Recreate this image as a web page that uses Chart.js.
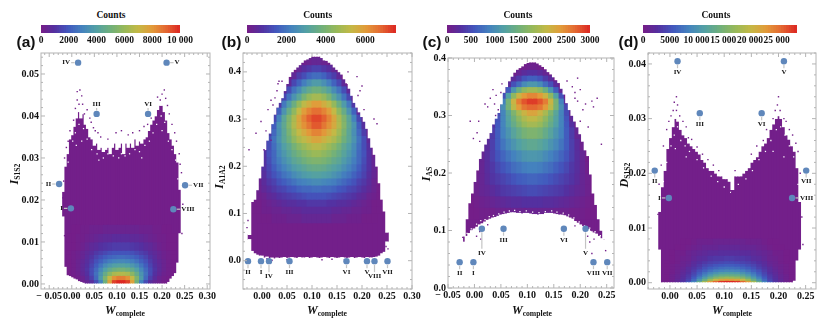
<!DOCTYPE html>
<html>
<head>
<meta charset="utf-8">
<title>Counts</title>
<script src="https://cdn.jsdelivr.net/npm/chart.js@4"></script>
<style>
  html, body { margin: 0; padding: 0; background: #fff; width: 826px; height: 319px; overflow: hidden; }
  canvas { position: absolute; }
  .txt { position: absolute; transform: translate(-50%, -50%); white-space: nowrap; font-family: "Liberation Serif", serif; color: #111; }
  .txt sub { font-size: 0.64em; font-weight: bold; font-style: normal; vertical-align: -0.3em; line-height: 0; }
</style>
</head>
<body>
<script>
// ### marker data ###
const markerNames = ["I", "II", "III", "IV", "V", "VI", "VII", "VIII"];
const markerW = [-0.002, -0.028, 0.055, 0.014, 0.21, 0.169, 0.251, 0.225];
const markerYA = [0.018, 0.0238, 0.0405, 0.0527, 0.0527, 0.0405, 0.0235, 0.0178];
const markerYB = [-0.001, -0.001, -0.001, -0.001, -0.001, -0.001, -0.001, -0.001];
const markerYC = [0.045, 0.045, 0.103, 0.103, 0.103, 0.103, 0.045, 0.045];
const markerYD = [0.0155, 0.0205, 0.031, 0.0405, 0.0405, 0.031, 0.0205, 0.0155];

// ### tick labels ###
const xTicksA = [-0.05, 0, 0.05, 0.1, 0.15, 0.2, 0.25, 0.3];
const xTicksB = [0, 0.05, 0.1, 0.15, 0.2, 0.25, 0.3];
const xTicksC = [-0.05, 0, 0.05, 0.1, 0.15, 0.2, 0.25];
const xTicksD = [0, 0.05, 0.1, 0.15, 0.2, 0.25];
const yTicksA = [0, 0.01, 0.02, 0.03, 0.04, 0.05];
const yTicksB = [0, 0.1, 0.2, 0.3, 0.4];
const yTicksC = [0, 0.1, 0.2, 0.3, 0.4];
const yTicksD = [0, 0.01, 0.02, 0.03, 0.04];
const barTicksA = [0, 2000, 4000, 6000, 8000, 10000];
const barTicksB = [0, 2000, 4000, 6000];
const barTicksC = [0, 500, 1000, 1500, 2000, 2500, 3000];
const barTicksD = [0, 5000, 10000, 15000, 20000, 25000];

// ### outline of each cloud: one column every 0.005 in W ###
const outlineW = [-0.025, -0.02, -0.015, -0.01, -0.005, 0, 0.005, 0.01, 0.015, 0.02, 0.025, 0.03, 0.035, 0.04, 0.045, 0.05, 0.055, 0.06, 0.065, 0.07, 0.075, 0.08, 0.085, 0.09, 0.095, 0.1, 0.105, 0.11, 0.115, 0.12, 0.125, 0.13, 0.135, 0.14, 0.145, 0.15, 0.155, 0.16, 0.165, 0.17, 0.175, 0.18, 0.185, 0.19, 0.195, 0.2, 0.205, 0.21, 0.215, 0.22, 0.225, 0.23, 0.235, 0.24, 0.245, 0.25];
const topA = [null, 0.022, 0.028, 0.031, 0.0345, 0.0355, 0.0375, 0.0395, 0.041, 0.0395, 0.0405, 0.038, 0.037, 0.035, 0.0345, 0.033, 0.0335, 0.032, 0.0325, 0.0315, 0.032, 0.0325, 0.031, 0.0325, 0.0335, 0.032, 0.0325, 0.0335, 0.031, 0.0335, 0.0325, 0.0335, 0.0325, 0.0345, 0.033, 0.034, 0.0335, 0.0345, 0.035, 0.0365, 0.038, 0.039, 0.04, 0.0415, 0.0425, 0.0425, 0.041, 0.039, 0.036, 0.0345, 0.033, 0.031, 0.029, 0.0225, null, null];
const lowA = [null, 0.016, 0.004, 0.002, 0.0018, 0.0015, 0.0012, 0.001, 0.0006, 0.0004, 0.0002, 0, 0, 0, 0, 0, 0, 0, 0, 0, 0, 0, 0, 0, 0, 0, 0, 0, 0, 0, 0, 0, 0, 0, 0, 0, 0, 0, 0, 0, 0, 0, 0, 0, 0, 0, 0, 0, 0.0004, 0.0012, 0.0018, 0.0025, 0.005, 0.012, null, null];
const topB = [0.055, 0.125, 0.13, 0.15, 0.175, 0.2, 0.235, 0.255, 0.27, 0.29, 0.31, 0.325, 0.335, 0.345, 0.36, 0.375, 0.39, 0.4, 0.405, 0.41, 0.415, 0.42, 0.425, 0.427, 0.43, 0.433, 0.433, 0.433, 0.433, 0.43, 0.425, 0.424, 0.42, 0.416, 0.41, 0.405, 0.4, 0.395, 0.385, 0.375, 0.365, 0.35, 0.335, 0.325, 0.315, 0.305, 0.295, 0.28, 0.26, 0.24, 0.225, 0.2, 0.165, 0.13, 0.105, 0.06];
const lowB = [0.045, 0.02, 0.015, 0.012, 0.01, 0.01, 0.006, 0.008, 0.004, 0.006, 0.004, 0.006, 0.005, 0.006, 0.007, 0.005, 0.006, 0.007, 0.006, 0.005, 0.007, 0.006, 0.006, 0.007, 0.005, 0.006, 0.007, 0.006, 0.005, 0.006, 0.007, 0.006, 0.005, 0.007, 0.006, 0.005, 0.006, 0.007, 0.006, 0.005, 0.006, 0.007, 0.005, 0.006, 0.007, 0.006, 0.005, 0.007, 0.006, 0.006, 0.007, 0.008, 0.01, 0.015, 0.018, 0.04];
const topC = [null, 0.09, 0.12, 0.148, 0.165, 0.185, 0.205, 0.225, 0.238, 0.25, 0.26, 0.27, 0.285, 0.295, 0.305, 0.32, 0.34, 0.35, 0.36, 0.368, 0.375, 0.38, 0.383, 0.386, 0.39, 0.392, 0.393, 0.393, 0.393, 0.391, 0.388, 0.385, 0.381, 0.376, 0.372, 0.367, 0.362, 0.357, 0.347, 0.337, 0.322, 0.31, 0.3, 0.29, 0.28, 0.268, 0.255, 0.24, 0.23, 0.198, 0.165, 0.145, 0.12, 0.1, 0.085, null];
const lowC = [null, 0.08, 0.09, 0.095, 0.1, 0.103, 0.106, 0.11, 0.112, 0.115, 0.118, 0.12, 0.122, 0.123, 0.125, 0.127, 0.128, 0.129, 0.13, 0.131, 0.131, 0.13, 0.13, 0.129, 0.13, 0.13, 0.129, 0.128, 0.128, 0.127, 0.128, 0.128, 0.13, 0.13, 0.13, 0.129, 0.128, 0.127, 0.127, 0.126, 0.124, 0.122, 0.12, 0.116, 0.113, 0.11, 0.107, 0.104, 0.102, 0.099, 0.096, 0.094, 0.09, 0.086, 0.084, null];
const topD = [null, 0.013, 0.0175, 0.0205, 0.0245, 0.0265, 0.0285, 0.03, 0.0295, 0.028, 0.027, 0.0265, 0.0255, 0.025, 0.0245, 0.024, 0.0235, 0.0225, 0.022, 0.021, 0.0205, 0.0205, 0.02, 0.0195, 0.0195, 0.019, 0.019, 0.0185, 0.017, 0.0195, 0.0195, 0.0195, 0.02, 0.0205, 0.021, 0.022, 0.0225, 0.023, 0.024, 0.025, 0.0255, 0.0265, 0.028, 0.029, 0.03, 0.0305, 0.03, 0.0285, 0.027, 0.0262, 0.025, 0.024, 0.021, 0.0148, null, null];
const lowD = [null, 0.006, 0, 0, 0, 0, 0, 0, 0, 0, 0, 0, 0, 0, 0, 0, 0, 0, 0, 0, 0, 0, 0, 0, 0, 0, 0, 0, 0, 0, 0, 0, 0, 0, 0, 0, 0, 0, 0, 0, 0, 0, 0, 0, 0, 0, 0, 0, 0, 0, 0, 0.0003, 0.004, 0.006, null, null];

// ### heat cells: column centres, row edges, counts per cell in units of countUnit ###
const colsA = [-0.005, 0.005, 0.015, 0.025, 0.035, 0.045, 0.055, 0.065, 0.075, 0.085, 0.095, 0.105, 0.115, 0.125, 0.135, 0.145, 0.155, 0.165, 0.175, 0.185, 0.195, 0.205, 0.215, 0.225];
const rowsA = [0, 0.001, 0.002, 0.003, 0.004, 0.005, 0.006, 0.007, 0.008, 0.01, 0.012, 0.014];
const countUnitA = 100;
const countsA = [
  [0,0,1,3,5,9,17,30,50,78,96,100,100,96,78,50,30,17,9,5,3,1,0,0],
  [0,1,2,4,8,14,24,38,54,70,82,86,86,82,70,54,38,24,14,8,4,2,1,0],
  [1,2,3,6,10,17,26,36,47,57,64,66,66,64,57,47,36,26,17,10,6,3,2,1],
  [1,2,4,7,11,17,24,32,40,46,50,52,52,50,46,40,32,24,17,11,7,4,2,1],
  [1,2,4,7,10,15,21,27,33,37,40,41,41,40,37,33,27,21,15,10,7,4,2,1],
  [1,2,4,6,9,13,18,22,26,29,31,32,32,31,29,26,22,18,13,9,6,4,2,1],
  [1,2,3,5,8,11,15,18,21,23,24,25,25,24,23,21,18,15,11,8,5,3,2,1],
  [1,2,3,5,7,9,12,14,16,18,19,19,19,19,18,16,14,12,9,7,5,3,2,1],
  [1,1,2,3,5,7,8,10,11,12,13,13,13,13,12,11,10,8,7,5,3,2,1,1],
  [1,1,2,2,3,4,5,6,7,7,8,8,8,8,7,7,6,5,4,3,2,2,1,1],
  [0,1,1,2,2,3,3,3,4,4,4,4,4,4,4,4,3,3,3,2,2,1,1,0],
];
const colsB = [-0.015, -0.005, 0.005, 0.015, 0.025, 0.035, 0.045, 0.055, 0.065, 0.075, 0.085, 0.095, 0.105, 0.115, 0.125, 0.135, 0.145, 0.155, 0.165, 0.175, 0.185, 0.195, 0.205, 0.215, 0.225, 0.235];
const rowsB = [0.08, 0.1, 0.115, 0.13, 0.145, 0.16, 0.175, 0.19, 0.205, 0.22, 0.235, 0.25, 0.265, 0.28, 0.295, 0.31, 0.325, 0.34, 0.355, 0.37, 0.385, 0.4, 0.415, 0.43];
const countUnitB = 100;
const countsB = [
  [0,1,1,1,2,2,2,3,3,3,4,4,4,4,4,4,3,3,3,2,2,2,1,1,1,0],
  [1,1,2,2,3,3,4,4,5,5,6,6,6,6,6,6,5,5,4,4,3,3,2,2,1,1],
  [1,1,2,3,4,5,6,7,7,8,8,9,9,9,9,8,8,7,7,6,5,4,3,2,1,1],
  [1,2,3,5,6,8,9,10,11,12,13,14,14,14,14,13,12,11,10,9,8,6,5,3,2,1],
  [1,3,5,7,9,11,12,14,15,17,18,18,19,19,18,18,17,15,14,12,11,9,7,5,3,1],
  [1,3,6,9,11,14,16,18,20,22,23,24,25,25,24,23,22,20,18,16,14,11,9,6,3,1],
  [1,4,7,11,14,17,20,22,25,27,29,30,31,31,30,29,27,25,22,20,17,14,11,7,4,1],
  [1,4,8,12,16,20,23,26,29,31,33,35,36,36,35,33,31,29,26,23,20,16,12,8,4,1],
  [0,4,8,13,18,22,26,29,33,35,38,40,41,41,40,38,35,33,29,26,22,18,13,8,4,0],
  [0,3,8,14,18,24,28,32,36,39,42,44,46,46,44,42,39,36,32,28,24,18,14,8,3,0],
  [0,2,7,13,19,25,30,34,39,43,46,49,51,51,49,46,43,39,34,30,25,19,13,7,2,0],
  [0,0,5,13,20,27,33,38,44,49,52,55,58,58,55,52,49,44,38,33,27,20,13,5,0,0],
  [0,0,3,10,18,26,33,40,47,53,57,61,64,64,61,57,53,47,40,33,26,18,10,3,0,0],
  [0,0,0,7,16,27,34,42,50,57,62,66,70,70,66,62,57,50,42,34,27,16,7,0,0,0],
  [0,0,0,5,12,23,33,41,49,58,64,69,72,72,69,64,58,49,41,33,23,12,5,0,0,0],
  [0,0,0,0,5,17,27,36,44,53,60,64,67,67,64,60,53,44,36,27,17,5,0,0,0,0],
  [0,0,0,0,2,9,21,29,37,45,52,56,60,60,56,52,45,37,29,21,9,2,0,0,0,0],
  [0,0,0,0,0,4,12,20,27,33,40,45,48,48,45,40,33,27,20,12,4,0,0,0,0,0],
  [0,0,0,0,0,0,5,13,20,25,31,35,38,38,35,31,25,20,13,5,0,0,0,0,0,0],
  [0,0,0,0,0,0,1,5,12,17,22,26,29,29,26,22,17,12,5,1,0,0,0,0,0,0],
  [0,0,0,0,0,0,0,1,5,10,13,17,19,19,17,13,10,5,1,0,0,0,0,0,0,0],
  [0,0,0,0,0,0,0,0,1,4,7,9,11,11,9,7,4,1,0,0,0,0,0,0,0,0],
  [0,0,0,0,0,0,0,0,0,0,2,3,4,4,3,2,0,0,0,0,0,0,0,0,0,0],
];
const colsC = colsB;
const rowsC = [0.12, 0.14, 0.16, 0.18, 0.2, 0.22, 0.24, 0.26, 0.28, 0.29, 0.3, 0.31, 0.32, 0.33, 0.34, 0.35, 0.36, 0.37, 0.38, 0.39];
const countUnitC = 30;
const countsC = [
  [0,1,1,2,2,2,3,3,3,4,4,4,4,4,4,4,4,3,3,3,2,2,2,1,1,0],
  [1,1,2,3,4,5,6,7,8,9,9,10,10,10,10,9,9,8,7,6,5,4,3,2,1,1],
  [0,1,3,5,6,8,10,12,13,14,15,16,17,17,16,15,14,13,12,10,8,6,5,3,1,0],
  [0,1,3,5,8,11,13,15,17,19,21,22,23,23,22,21,19,17,15,13,11,8,5,3,1,0],
  [0,0,2,5,9,12,16,19,22,25,27,29,30,30,29,27,25,22,19,16,12,9,5,2,0,0],
  [0,0,1,5,9,14,19,23,27,30,33,36,37,37,36,33,30,27,23,19,14,9,5,1,0,0],
  [0,0,0,3,8,14,21,27,32,36,40,43,45,45,43,40,36,32,27,21,14,8,3,0,0,0],
  [0,0,0,0,5,13,21,30,36,42,47,52,54,54,52,47,42,36,30,21,13,5,0,0,0,0],
  [0,0,0,0,2,10,20,31,40,47,54,60,63,63,60,54,47,40,31,20,10,2,0,0,0,0],
  [0,0,0,0,1,7,19,31,41,50,58,65,69,69,65,58,50,41,31,19,7,1,0,0,0,0],
  [0,0,0,0,0,5,17,31,43,54,64,72,77,77,72,64,54,43,31,17,5,0,0,0,0,0],
  [0,0,0,0,0,3,16,34,52,68,80,87,90,90,87,80,68,52,34,16,3,0,0,0,0,0],
  [0,0,0,0,0,0,8,30,52,72,86,93,97,97,93,86,72,52,30,8,0,0,0,0,0,0],
  [0,0,0,0,0,0,2,18,40,58,72,80,84,84,80,72,58,40,18,2,0,0,0,0,0,0],
  [0,0,0,0,0,0,0,6,21,36,49,58,62,62,58,49,36,21,6,0,0,0,0,0,0,0],
  [0,0,0,0,0,0,0,1,8,18,25,33,37,37,33,25,18,8,1,0,0,0,0,0,0,0],
  [0,0,0,0,0,0,0,0,2,8,13,19,22,22,19,13,8,2,0,0,0,0,0,0,0,0],
  [0,0,0,0,0,0,0,0,0,2,5,8,10,10,8,5,2,0,0,0,0,0,0,0,0,0],
  [0,0,0,0,0,0,0,0,0,0,1,2,3,3,2,1,0,0,0,0,0,0,0,0,0,0],
];
const colsD = colsA;
const rowsD = [0, 0.0004, 0.0008, 0.0012, 0.0016, 0.002, 0.0025, 0.003, 0.0035, 0.004, 0.005, 0.006, 0.007, 0.008];
const countUnitD = 288;
const countsD = [
  [1,3,6,11,19,30,46,62,78,90,98,100,100,98,90,78,62,46,30,19,11,6,3,1],
  [1,3,6,10,15,24,36,48,60,70,76,78,78,76,70,60,48,36,24,15,10,6,3,1],
  [1,3,5,9,13,20,29,38,47,54,58,60,60,58,54,47,38,29,20,13,9,5,3,1],
  [1,3,5,8,12,17,24,31,38,44,47,48,48,47,44,38,31,24,17,12,8,5,3,1],
  [1,2,4,7,10,15,21,27,32,36,39,40,40,39,36,32,27,21,15,10,7,4,2,1],
  [1,2,4,6,9,13,18,22,26,29,31,32,32,31,29,26,22,18,13,9,6,4,2,1],
  [1,2,3,5,8,11,14,18,21,23,25,26,26,25,23,21,18,14,11,8,5,3,2,1],
  [1,2,3,4,6,9,12,15,17,19,20,21,21,20,19,17,15,12,9,6,4,3,2,1],
  [1,1,2,4,5,8,10,12,14,15,16,17,17,16,15,14,12,10,8,5,4,2,1,1],
  [0,1,2,3,4,6,8,9,11,12,12,13,13,12,12,11,9,8,6,4,3,2,1,0],
  [0,1,2,2,4,5,6,7,8,8,9,9,9,9,8,8,7,6,5,4,2,2,1,0],
  [0,0,1,1,2,3,4,5,5,5,6,6,6,6,5,5,5,4,3,2,1,1,0,0],
  [0,0,0,1,1,2,3,3,3,4,4,4,4,4,4,3,3,3,2,1,1,0,0,0],
];

// ### lone occupied bins outside the outline, [W, value] ###
const speckA = [[0.012,0.0458],[0.018,0.0462],[0.022,0.0448],[0.012,0.0438],[0.016,0.0428],[0.008,0.0418],[0.024,0.0428],[0.028,0.0405],[0.034,0.0415],[0.04,0.0395],[0.043,0.0385],[0.048,0.0372],[0.052,0.0365],[0.058,0.036],[0.064,0.035],[0.08,0.0345],[0.098,0.036],[0.11,0.0365],[0.125,0.0355],[0.135,0.036],[0.15,0.0365],[0.16,0.0375],[0.168,0.038],[0.176,0.0395],[0.205,0.0462],[0.2,0.0452],[0.208,0.0442],[0.196,0.0438],[0.19,0.0445],[0.212,0.0425],[0.216,0.0405],[0.222,0.038],[0.228,0.036],[0.232,0.034],[0.238,0.031],[0.24,0.0285],[-0.012,0.0325],[-0.008,0.034],[-0.016,0.03],[-0.018,0.0245],[-0.02,0.0205],[-0.016,0.0115],[0.243,0.0265],[0.246,0.019],[0.244,0.012],[-0.004,0.0365],[0.004,0.039]];
const speckB = [[-0.026,0.235],[-0.012,0.27],[-0.002,0.295],[0.004,0.235],[0.012,0.32],[0.018,0.34],[0.026,0.345],[0.022,0.33],[0.03,0.36],[0.034,0.38],[0.04,0.38],[0.032,0.375],[0.168,0.375],[0.172,0.4],[0.19,0.39],[0.2,0.37],[0.196,0.36],[0.192,0.35],[0.204,0.32],[0.224,0.3],[0.23,0.29],[0.018,0.255],[0.008,0.275],[-0.03,0.07],[-0.028,0.085],[0.252,0.025],[0.248,0.03],[0.01,0.004],[0.02,0.001],[0.05,0.002],[0.12,0.002],[0.14,0.003],[0.165,0.002]];
const speckC = [[0.008,0.29],[0.02,0.32],[0.03,0.33],[0.025,0.315],[0.035,0.345],[0.041,0.335],[0.038,0.32],[0.04,0.3],[0.045,0.31],[0.052,0.355],[0.005,0.27],[-0.002,0.26],[0.01,0.255],[-0.008,0.29],[0.05,0.34],[0.175,0.36],[0.195,0.365],[0.19,0.34],[0.185,0.35],[0.2,0.345],[0.195,0.325],[0.205,0.31],[0.2,0.29],[0.19,0.33],[0.215,0.28],[0.21,0.32],[0.222,0.325],[0.225,0.315],[0.232,0.33],[0.24,0.25],[0.006,0.118],[0.018,0.122],[0.03,0.13],[0.048,0.132],[0.06,0.135],[0.08,0.135],[0.095,0.138],[0.14,0.135],[0.15,0.132],[0.17,0.13],[0.004,0.09],[0.012,0.085],[0.01,0.098],[0.208,0.1],[0.214,0.09],[0.218,0.08],[0.222,0.1],[0.226,0.085],[0.222,0.06],[0.248,0.065],[-0.022,0.088],[0.025,0.11],[0.19,0.108]];
const speckD = [[0.012,0.034],[0.008,0.033],[0.014,0.0325],[0.006,0.0315],[0.012,0.0315],[0.018,0.0305],[-0.002,0.0295],[0.002,0.0305],[-0.006,0.028],[0.024,0.0295],[0.03,0.0285],[0.034,0.0265],[0.04,0.0262],[0.05,0.0248],[0.06,0.0235],[0.07,0.0225],[0.09,0.0205],[0.2,0.034],[0.198,0.0325],[0.203,0.0315],[0.194,0.0315],[0.19,0.03],[0.178,0.028],[0.172,0.026],[0.21,0.03],[0.214,0.0295],[0.22,0.028],[0.226,0.027],[0.232,0.0255],[0.236,0.024],[0.24,0.02],[-0.012,0.025],[-0.016,0.0215],[-0.02,0.018],[-0.022,0.0125],[0.243,0.012],[0.245,0.007],[0.15,0.0235],[0.16,0.025],[0.114,0.0165],[0.12,0.0205],[0.08,0.0215]];

// ### empty bins inside the outline, [W, value] ###
const holeA = [[0.002,0.034],[0.008,0.036],[0.016,0.038],[0.026,0.037],[0.034,0.0345],[0.044,0.032],[0.056,0.031],[0.07,0.03],[0.08,0.031],[0.092,0.0305],[0.104,0.03],[0.118,0.0305],[0.128,0.031],[0.14,0.032],[0.15,0.0315],[0.162,0.033],[0.172,0.034],[0.18,0.036],[0.188,0.038],[0.198,0.04],[0.206,0.0385],[0.214,0.034],[0.222,0.032],[0.23,0.0295],[0.01,0.033],[0.022,0.034],[0.06,0.0295],[0.11,0.031],[0.155,0.03],[0.2,0.0365],[-0.008,0.029],[0.235,0.025]];
const holeC = [[0.004,0.111],[0.012,0.117],[0.02,0.119],[0.028,0.124],[0.036,0.126],[0.046,0.129],[0.056,0.132],[0.066,0.134],[0.076,0.135],[0.086,0.133],[0.098,0.134],[0.11,0.132],[0.122,0.131],[0.134,0.133],[0.146,0.134],[0.156,0.132],[0.168,0.13],[0.178,0.127],[0.188,0.122],[0.198,0.115],[0.208,0.108],[0.218,0.104],[0.228,0.098],[0.238,0.091],[-0.006,0.103],[-0.014,0.095]];
const holeD = [[0.002,0.025],[0.008,0.027],[0.014,0.0285],[0.02,0.026],[0.028,0.025],[0.036,0.024],[0.05,0.0225],[0.062,0.021],[0.076,0.0195],[0.088,0.0185],[0.1,0.0175],[0.112,0.0165],[0.126,0.018],[0.14,0.019],[0.152,0.0205],[0.164,0.0225],[0.176,0.024],[0.186,0.026],[0.196,0.028],[0.204,0.0285],[0.212,0.027],[0.22,0.025],[0.228,0.023],[-0.012,0.0185],[-0.006,0.022],[0.236,0.018],[0.01,0.0245],[0.03,0.023],[0.19,0.024],[0.21,0.023]];

// ### colors ###
const MARKER = "#5f87bb";
const FRAME = "#b4b4b4";
const TEXT = "#111";
const SERIF = "Liberation Serif";
const RAINBOW = [
  [120, 28, 134], [84, 48, 160], [66, 88, 190], [68, 130, 190], [82, 160, 165], [110, 175, 125],
  [150, 185, 90], [195, 185, 70], [226, 155, 58], [228, 105, 50], [220, 40, 35],
];

function rainbowColor(t) {
  const pos = Math.min(Math.max(t, 0), 1) * (RAINBOW.length - 1);
  const i = Math.min(Math.floor(pos), RAINBOW.length - 2);
  const f = pos - i;
  const c = RAINBOW[i].map((v, k) => Math.round(v + (RAINBOW[i + 1][k] - v) * f));
  return `rgb(${c[0]},${c[1]},${c[2]})`;
}

// ### drawing helpers ###
function addCanvas(left, top, width, height) {
  const canvas = document.createElement("canvas");
  canvas.width = width;
  canvas.height = height;
  canvas.style.left = left + "px";
  canvas.style.top = top + "px";
  canvas.style.width = width + "px";
  canvas.style.height = height + "px";
  document.body.appendChild(canvas);
  return canvas;
}

function addText(html, x, y, style) {
  const el = document.createElement("div");
  el.className = "txt";
  el.innerHTML = html;
  el.style.left = x + "px";
  el.style.top = y + "px";
  el.style.cssText += style;
  document.body.appendChild(el);
}

// frame with inward ticks on all four sides
const frameTicks = {
  id: "frameTicks",
  afterDraw(chart, args, opts) {
    const { ctx, chartArea: a, scales } = chart;
    ctx.save();
    ctx.strokeStyle = FRAME;
    ctx.lineWidth = 1;
    const tickLine = (x0, y0, x1, y1) => {
      ctx.beginPath();
      ctx.moveTo(x0, y0);
      ctx.lineTo(x1, y1);
      ctx.stroke();
    };
    for (let n = -20; n <= 80; n++) {
      const v = n * opts.xStep;
      if (v < scales.x.min || v > scales.x.max) continue;
      const len = n % 5 === 0 ? 4 : 2;
      const px = scales.x.getPixelForValue(v);
      tickLine(px, a.bottom, px, a.bottom - len);
      tickLine(px, a.top, px, a.top + len);
    }
    for (let n = -20; n <= 80; n++) {
      const v = n * opts.yStep;
      if (v < scales.y.min || v > scales.y.max) continue;
      const len = n % 5 === 0 ? 4 : 2;
      const py = scales.y.getPixelForValue(v);
      tickLine(a.left, py, a.left + len, py);
      tickLine(a.right, py, a.right - len, py);
    }
    ctx.strokeRect(a.left, a.top, a.right - a.left, a.bottom - a.top);
    ctx.restore();
  },
};

// leader lines and roman labels of the markers
const markerLabels = {
  id: "markerLabels",
  afterDatasetsDraw(chart, args, opts) {
    const { ctx, scales } = chart;
    ctx.save();
    ctx.font = `bold 7px "${SERIF}"`;
    ctx.fillStyle = TEXT;
    ctx.textBaseline = "middle";
    markerNames.forEach((name, i) => {
      const px = scales.x.getPixelForValue(markerW[i]);
      const py = scales.y.getPixelForValue(opts.y[i]);
      const side = opts.side[i];
      const dist = opts.dist[i];
      const dx = side === "l" ? -1 : side === "r" ? 1 : 0;
      const dy = side === "t" ? -1 : side === "b" ? 1 : 0;
      ctx.strokeStyle = "#c4c4c4";
      ctx.lineWidth = 1.2;
      ctx.beginPath();
      ctx.moveTo(px + dx * 3.5, py + dy * 3.5);
      ctx.lineTo(px + dx * (dist - (dy ? 4 : 1)), py + dy * (dist - 4));
      ctx.stroke();
      ctx.textAlign = dx < 0 ? "right" : dx > 0 ? "left" : "center";
      ctx.fillText(name, px + dx * dist, py + dy * dist);
    });
    ctx.restore();
  },
};

function axisFit(scale, size) {
  if (scale.axis === "x") scale.height = size;
  else scale.width = size;
  scale.paddingLeft = 0;
  scale.paddingRight = 0;
  scale.paddingTop = 0;
  scale.paddingBottom = 0;
}

function scatterFrom(pairs, color, radius, order) {
  return {
    type: "scatter",
    data: pairs.map((p) => ({ x: p[0], y: p[1] })),
    backgroundColor: color,
    pointStyle: "rect",
    pointRadius: radius,
    borderWidth: 0,
    order: order,
  };
}

function renderPanel(p) {
  const pxPerW = (p.box.right - p.box.left) / (p.xRange[1] - p.xRange[0]);
  const baseColor = rainbowColor(0.015);

  // purple silhouette from the outline columns
  const baseBars = [];
  const maskBars = [];
  outlineW.forEach((w, i) => {
    if (p.top[i] === null) {
      maskBars.push({ x: w, y: p.yRange });
      return;
    }
    baseBars.push({ x: w, y: [p.low[i], p.top[i]] });
    maskBars.push({ x: w, y: [p.top[i], p.yRange[1]] });
    maskBars.push({ x: w, y: [p.yRange[0], p.low[i]] });
  });

  // coloured cells
  const cellBars = [];
  const cellColors = [];
  p.counts.forEach((row, r) => {
    row.forEach((count, c) => {
      if (count === 0) return;
      cellBars.push({ x: p.cols[c], y: [p.rows[r], p.rows[r + 1]] });
      cellColors.push(rainbowColor((count * p.unit) / p.barMax));
    });
  });

  const datasets = [
    { data: baseBars, backgroundColor: baseColor, barThickness: 0.005 * pxPerW + 0.4, order: 6 },
    { data: cellBars, backgroundColor: cellColors, barThickness: 0.01 * pxPerW + 0.4, order: 5 },
    { data: maskBars, backgroundColor: "#fff", barThickness: 0.005 * pxPerW + 0.4, order: 4 },
    scatterFrom(p.specks, baseColor, 1, 3),
    {
      type: "scatter",
      data: markerW.map((w, i) => ({ x: w, y: p.markerY[i] })),
      backgroundColor: MARKER,
      pointRadius: 3.2,
      borderWidth: 0,
      clip: false,
      order: 1,
    },
  ];
  if (p.holes) datasets.push(scatterFrom(p.holes, "#fff", 0.9, 3.5));

  const marginLeft = 36;
  const marginRight = 14;
  const marginTop = 4;
  const marginBottom = 14;
  const canvas = addCanvas(
    p.box.left - marginLeft,
    p.box.top - marginTop,
    Math.round(p.box.right - p.box.left) + marginLeft + marginRight,
    Math.round(p.box.bottom - p.box.top) + marginTop + marginBottom
  );

  const tickFont = { family: SERIF, size: 10, weight: "bold" };
  return new Chart(canvas, {
    type: "bar",
    data: { datasets },
    options: {
      responsive: false,
      animation: false,
      devicePixelRatio: 1,
      events: [],
      layout: { padding: { left: 0, right: marginRight, top: marginTop, bottom: 0 } },
      datasets: { bar: { grouped: false, borderWidth: 0 } },
      plugins: {
        legend: { display: false },
        tooltip: { enabled: false },
        frameTicks: { xStep: 0.01, yStep: p.yStep },
        markerLabels: { y: p.markerY, side: p.side, dist: p.dist },
      },
      scales: {
        x: {
          type: "linear",
          offset: false,
          min: p.xRange[0],
          max: p.xRange[1],
          grid: { display: false, drawTicks: false },
          border: { display: false },
          afterBuildTicks: (s) => { s.ticks = p.xTicks.map((v) => ({ value: v })); },
          afterFit: (s) => axisFit(s, marginBottom),
          ticks: {
            autoSkip: false,
            maxRotation: 0,
            padding: 1,
            color: TEXT,
            font: tickFont,
            callback: (v) => (v < 0 ? "− " + Math.abs(v).toFixed(2) : v.toFixed(2)),
          },
        },
        y: {
          min: p.yRange[0],
          max: p.yRange[1],
          grid: { display: false, drawTicks: false },
          border: { display: false },
          afterBuildTicks: (s) => { s.ticks = p.yTicks.map((v) => ({ value: v })); },
          afterFit: (s) => axisFit(s, marginLeft),
          ticks: {
            autoSkip: false,
            padding: 2,
            color: TEXT,
            font: tickFont,
            callback: (v) => v.toFixed(p.yDigits),
          },
        },
      },
    },
    plugins: [frameTicks, markerLabels],
  });
}

function renderColorbar(b) {
  const stepCount = 60;
  const bars = [];
  const colors = [];
  for (let i = 0; i < stepCount; i++) {
    bars.push({ x: ((i + 0.5) * b.max) / stepCount, y: [0, 1] });
    colors.push(rainbowColor((i + 0.5) / stepCount));
  }
  const marginLeft = 16;
  const marginRight = 18;
  const canvas = addCanvas(b.left - marginLeft, 20, Math.round(b.right - b.left) + marginLeft + marginRight, 28);
  return new Chart(canvas, {
    type: "bar",
    data: {
      datasets: [{
        data: bars,
        backgroundColor: colors,
        barThickness: (b.right - b.left) / stepCount + 0.4,
        grouped: false,
        borderWidth: 0,
      }],
    },
    options: {
      responsive: false,
      animation: false,
      devicePixelRatio: 1,
      events: [],
      layout: { padding: { left: marginLeft, right: marginRight, top: 5, bottom: 0 } },
      plugins: { legend: { display: false }, tooltip: { enabled: false } },
      scales: {
        x: {
          type: "linear",
          min: 0,
          max: b.max,
          offset: false,
          grid: { display: false, drawTicks: false },
          border: { display: false },
          afterBuildTicks: (s) => { s.ticks = b.ticks.map((v) => ({ value: v })); },
          afterFit: (s) => axisFit(s, 15),
          ticks: {
            autoSkip: false,
            maxRotation: 0,
            padding: 2,
            color: TEXT,
            font: { family: SERIF, size: 9.5, weight: "bold" },
            callback: (v) => (v >= 10000 ? Math.floor(v / 1000) + " 000" : String(v)),
          },
        },
        y: { display: false, min: 0, max: 1 },
      },
    },
  });
}

// ### aplication start ###
function main() {
  renderPanel({
    box: { left: 41, right: 209.5, top: 53, bottom: 289 },
    xRange: [-0.0682, 0.3062], yRange: [-0.0012, 0.055], yStep: 0.002, yDigits: 2,
    xTicks: xTicksA, yTicks: yTicksA, top: topA, low: lowA,
    cols: colsA, rows: rowsA, counts: countsA, unit: countUnitA, barMax: 10000,
    specks: speckA, holes: holeA, markerY: markerYA,
    side: ["l", "l", "t", "l", "r", "t", "r", "r"], dist: [8, 8, 10, 8, 8, 10, 8, 8],
  });
  renderPanel({
    box: { left: 243.3, right: 412.3, top: 53, bottom: 289 },
    xRange: [-0.038, 0.3], yRange: [-0.06, 0.44], yStep: 0.02, yDigits: 1,
    xTicks: xTicksB, yTicks: yTicksB, top: topB, low: lowB,
    cols: colsB, rows: rowsB, counts: countsB, unit: countUnitB, barMax: 7567,
    specks: speckB, markerY: markerYB,
    side: ["b", "b", "b", "b", "b", "b", "b", "b"], dist: [11, 11, 11, 15, 11, 11, 11, 15],
  });
  renderPanel({
    box: { left: 448.3, right: 614, top: 58.3, bottom: 288.7 },
    xRange: [-0.05, 0.2638], yRange: [0, 0.4], yStep: 0.02, yDigits: 1,
    xTicks: xTicksC, yTicks: yTicksC, top: topC, low: lowC,
    cols: colsC, rows: rowsC, counts: countsC, unit: countUnitC, barMax: 3000,
    specks: speckC, holes: holeC, markerY: markerYC,
    side: ["b", "b", "b", "b", "b", "b", "b", "b"], dist: [11, 11, 11, 24, 24, 11, 11, 11],
  });
  renderPanel({
    box: { left: 648.3, right: 816.7, top: 53.3, bottom: 289.3 },
    xRange: [-0.0404, 0.2691], yRange: [-0.00115, 0.042], yStep: 0.002, yDigits: 2,
    xTicks: xTicksD, yTicks: yTicksD, top: topD, low: lowD,
    cols: colsD, rows: rowsD, counts: countsD, unit: countUnitD, barMax: 28800,
    specks: speckD, holes: holeD, markerY: markerYD,
    side: ["l", "b", "b", "b", "b", "b", "b", "r"], dist: [8, 11, 11, 11, 11, 11, 11, 8],
  });

  renderColorbar({ left: 41, right: 180, max: 10000, ticks: barTicksA });
  renderColorbar({ left: 247, right: 395.7, max: 7567, ticks: barTicksB });
  renderColorbar({ left: 447, right: 590, max: 3000, ticks: barTicksC });
  renderColorbar({ left: 643, right: 797, max: 28800, ticks: barTicksD });

  const bold = "font-weight:bold;font-size:9.5px;";
  addText("Counts", 111, 14.5, bold);
  addText("Counts", 317.7, 14.5, bold);
  addText("Counts", 518, 14.5, bold);
  addText("Counts", 716, 14.5, bold);

  const tag = 'font-family:"Liberation Sans",sans-serif;font-weight:bold;font-size:15.5px;';
  addText("(a)", 26, 41.5, tag);
  addText("(b)", 231.5, 41.5, tag);
  addText("(c)", 432, 41.5, tag);
  addText("(d)", 628.5, 41.5, tag);

  const axis = "font-size:12px;font-style:italic;font-weight:bold;";
  [125, 327, 532, 732].forEach((x) => addText("<i>W</i><sub>complete</sub>", x, 310, axis));
  const rot = axis + "transform:translate(-50%,-50%) rotate(-90deg);";
  addText("<i>I</i><sub>S1S2</sub>", 14, 174, rot);
  addText("<i>I</i><sub>A1A2</sub>", 219, 177, rot);
  addText("<i>I</i><sub>AS</sub>", 426, 174, rot);
  addText("<i>D</i><sub>S1S2</sub>", 624, 175, rot);
}

main();
</script>
</body>
</html>
